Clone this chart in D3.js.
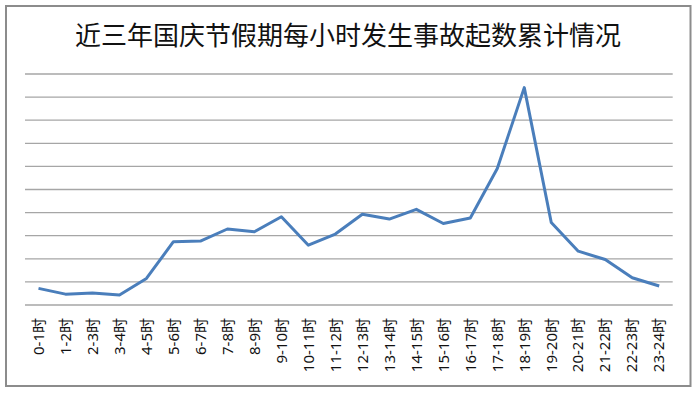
<!DOCTYPE html>
<html><head><meta charset="utf-8">
<script src="https://cdn.jsdelivr.net/npm/d3@7"></script>
<style>body{margin:0;background:#fff}svg{display:block}</style>
</head><body><svg id="c" width="700" height="394"></svg>
<script>
const title = "近三年国庆节假期每小时发生事故起数累计情况";
const categories = ["0-1时","1-2时","2-3时","3-4时","4-5时","5-6时","6-7时","7-8时","8-9时","9-10时","10-11时","11-12时","12-13时","13-14时","14-15时","15-16时","16-17时","17-18时","18-19时","19-20时","20-21时","21-22时","22-23时","23-24时"];
const values = [0.72,0.47,0.52,0.43,1.15,2.74,2.77,3.29,3.17,3.82,2.59,3.07,3.93,3.72,4.14,3.53,3.77,5.91,9.41,3.57,2.33,1.97,1.18,0.82];
const yTicks = [0,1,2,3,4,5,6,7,8,9,10];

const svg = d3.select("#c");
svg.append("rect").attr("x",6).attr("y",6).attr("width",684.5).attr("height",380)
  .attr("fill","#fff").attr("stroke","#8c8c8c").attr("stroke-width",2);

svg.append("text").attr("x",348).attr("y",45).attr("text-anchor","middle")
  .attr("font-family","'Noto Sans CJK SC'").attr("font-size",26).attr("fill","#111")
  .text(title);

const x = d3.scaleBand().domain(categories).range([25,672.7]);
const y = d3.scaleLinear().domain([0,10]).range([305,74]);

const g = svg.append("g");
g.selectAll("line.grid").data(yTicks).join("line").attr("class","grid")
  .attr("x1",25).attr("x2",672.7).attr("y1",d=>y(d)).attr("y2",d=>y(d))
  .attr("stroke","#a6a6a6").attr("stroke-width",1.3);

const xAxis = svg.append("g").attr("transform","translate(0,305)")
  .call(d3.axisBottom(x).tickSize(0).tickPadding(0));
xAxis.select(".domain").remove();
xAxis.selectAll("text")
  .attr("transform","rotate(-90)")
  .attr("x",-13).attr("y",0).attr("dy","0.35em")
  .attr("text-anchor","end")
  .attr("font-family","'Noto Sans','Noto Sans CJK SC'").attr("font-size",15).attr("fill","#111");

const line = d3.line().x((d,i)=>x(categories[i])+x.bandwidth()/2).y(d=>y(d));
svg.append("path").datum(values).attr("d",line).attr("fill","none")
  .attr("stroke","#4a7ebb").attr("stroke-width",3).attr("stroke-linejoin","round");
</script></body></html>
